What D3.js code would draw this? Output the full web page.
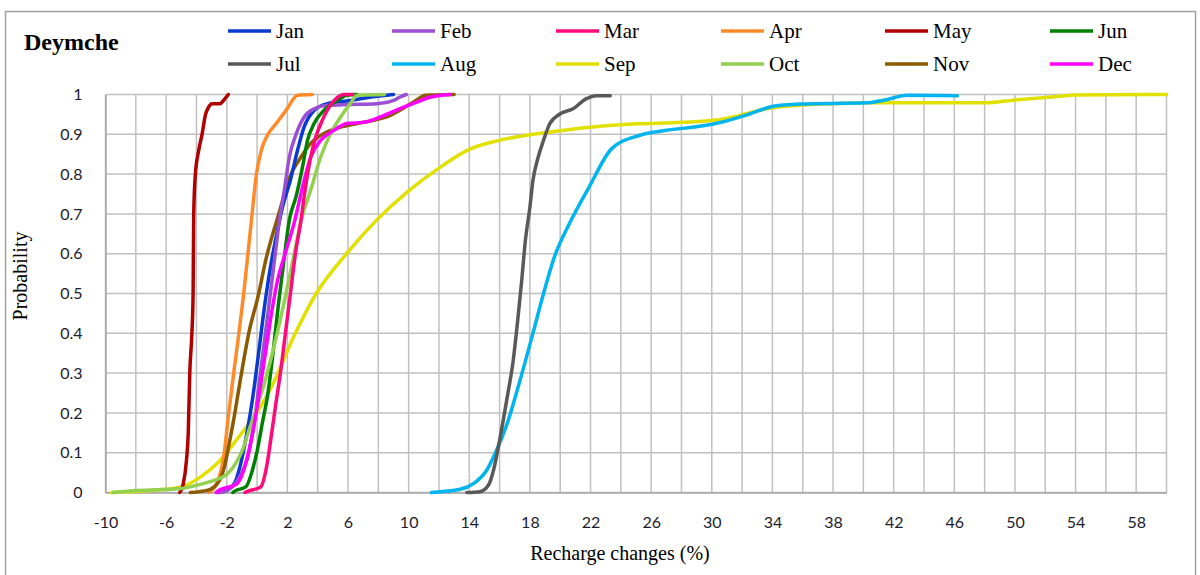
<!DOCTYPE html>
<html>
<head>
<meta charset="utf-8">
<script src="https://cdn.jsdelivr.net/npm/d3@7"></script>
<style>
  html, body { margin: 0; padding: 0; background: #fff; }
  svg { display: block; }
</style>
</head>
<body>
<svg id="chart" width="1200" height="575"></svg>
<script>
// ---- Data ----
const months = ["Jan","Feb","Mar","Apr","May","Jun","Jul","Aug","Sep","Oct","Nov","Dec"];
const colors = ["#0a3ad0","#9b4fd2","#ff0a7a","#ff8a2a","#b00000","#008000","#595959","#00b4f0","#e2e000","#92d050","#8c5a00","#ff00ff"];

const janX = [-2.6,-2.15,-1.5,-1.07,-0.63,-0.3,0.1,0.5,0.9,1.3,1.7,2.2,2.67,3.1,3.76,4.63,6.15,7.24,8.54,9.0];
const janP = [0,0.003,0.023,0.074,0.158,0.235,0.35,0.47,0.57,0.65,0.72,0.785,0.86,0.918,0.96,0.977,0.985,0.992,0.998,1.0];

const febX = [-2.5,-2.0,-1.3,-0.55,-0.1,0.22,0.55,0.88,1.2,1.48,1.8,2.13,2.57,3.1,3.76,4.63,6.15,7.9,9.0,9.4,9.85];
const febP = [0,0.005,0.03,0.1,0.2,0.3,0.4,0.5,0.6,0.685,0.76,0.843,0.9,0.943,0.964,0.973,0.975,0.977,0.985,0.993,1.0];

const marX = [-0.8,-0.63,0.24,0.63,0.93,1.22,1.54,1.87,2.2,2.53,2.9,3.2,3.54,3.87,4.3,4.74,5.28,5.72,6.3];
const marP = [0,0.003,0.014,0.065,0.14,0.218,0.3,0.4,0.5,0.6,0.685,0.768,0.843,0.893,0.935,0.968,0.992,1.0,1.0];

const aprX = [-3.2,-2.7,-2.2,-1.87,-1.54,-1.2,-0.88,-0.37,-0.04,0.28,0.72,1.26,1.91,2.67,3.65];
const aprP = [0,0.02,0.09,0.2,0.3,0.4,0.5,0.685,0.8,0.86,0.9,0.927,0.96,0.998,1.0];

const mayX = [-5.1,-4.88,-4.66,-4.54,-4.44,-4.3,-4.22,-4.18,-4.07,-3.85,-3.63,-3.4,-3.2,-2.98,-2.43,-2.22,-1.9];
const mayP = [0,0.02,0.08,0.15,0.3,0.4,0.5,0.7,0.8,0.86,0.9,0.95,0.968,0.977,0.977,0.985,1.0];

const junX = [-1.6,-1.5,-0.74,-0.3,0.02,0.35,0.72,1.05,1.4,1.76,2.13,2.57,3.0,3.33,3.76,4.41,5.28,5.93,6.6];
const junP = [0,0.003,0.014,0.057,0.107,0.175,0.25,0.35,0.47,0.58,0.685,0.743,0.818,0.885,0.927,0.96,0.985,0.998,1.0];

const julX = [13.84,14.7,15.26,15.6,16.0,16.47,16.9,17.24,17.46,17.7,18.0,18.2,18.55,18.9,19.3,19.98,20.85,21.7,22.4,23.3];
const julP = [0,0.002,0.018,0.056,0.131,0.232,0.332,0.449,0.533,0.633,0.717,0.784,0.843,0.885,0.926,0.951,0.964,0.989,0.997,0.997];

const augX = [11.5,13.4,14.3,15.15,15.8,16.5,17.35,18.2,18.9,19.6,20.6,21.9,23.4,25.2,27.0,29.2,30.7,32.5,34.0,35.8,40.2,41.5,42.9,46.2];
const augP = [0,0.008,0.023,0.056,0.106,0.173,0.282,0.4,0.5,0.59,0.675,0.767,0.864,0.897,0.91,0.92,0.931,0.951,0.97,0.976,0.979,0.987,0.998,0.997];

const sepX = [-9.6,-7.0,-5.0,-3.7,-2.6,-1.5,-0.6,0.3,1.1,2.4,3.9,5.9,7.9,10.0,12.0,14.0,16.0,18.2,20.4,22.6,24.8,28.1,30.3,31.8,33.6,35.8,38.0,40.2,48.0,50.2,52.4,54.2,60.0];
const sepP = [0,0.005,0.014,0.04,0.074,0.125,0.17,0.22,0.277,0.39,0.5,0.6,0.685,0.758,0.815,0.862,0.885,0.9,0.911,0.92,0.926,0.93,0.936,0.947,0.964,0.973,0.977,0.979,0.979,0.987,0.994,0.999,1.0];

const octX = [-9.5,-7.9,-5.0,-3.7,-2.8,-1.93,-1.4,-0.96,-0.52,0.02,0.6,1.2,1.8,2.4,2.95,3.54,4.2,4.85,5.5,6.15,6.6,8.4];
const octP = [0,0.005,0.01,0.021,0.031,0.048,0.074,0.107,0.158,0.218,0.29,0.38,0.48,0.59,0.69,0.76,0.843,0.902,0.943,0.977,0.998,1.0];

const novX = [-4.4,-3.24,-2.6,-2.15,-1.83,-1.5,-1.17,-0.55,0.11,0.55,1.43,2.24,2.9,3.54,4.41,5.5,6.59,7.67,8.76,9.4,10.28,11.15,13.0];
const novP = [0,0.006,0.023,0.065,0.125,0.192,0.268,0.4,0.5,0.58,0.7,0.8,0.843,0.877,0.902,0.918,0.927,0.935,0.947,0.96,0.98,0.998,1.0];

const decX = [-2.7,-2.6,-1.3,-0.74,-0.25,0.15,0.55,0.95,1.35,1.85,2.5,3.0,3.54,4.2,5.07,5.93,7.0,8.1,9.4,10.5,11.4,12.7];
const decP = [0,0.003,0.023,0.074,0.158,0.25,0.35,0.45,0.533,0.6,0.685,0.768,0.843,0.885,0.91,0.927,0.93,0.943,0.964,0.98,0.993,1.0];

const seriesX = [janX,febX,marX,aprX,mayX,junX,julX,augX,sepX,octX,novX,decX];
const seriesP = [janP,febP,marP,aprP,mayP,junP,julP,augP,sepP,octP,novP,decP];

const xTickVals = [-10,-6,-2,2,6,10,14,18,22,26,30,34,38,42,46,50,54,58];
const yTickVals = [0,0.1,0.2,0.3,0.4,0.5,0.6,0.7,0.8,0.9,1];

const chartTitle = "Deymche";
const xTitle = "Recharge changes (%)";
const yTitle = "Probability";

// ---- Drawing ----
const svg = d3.select("#chart");
const L = 105.5, R = 1166.5, T = 94.5, B = 492.5;
const x = d3.scaleLinear().domain([-10, 60]).range([L, R]);
const y = d3.scaleLinear().domain([0, 1]).range([B, T]);

// outer border
svg.append("rect").attr("x", 5.5).attr("y", 11.5).attr("width", 1190).attr("height", 620)
  .attr("fill", "none").attr("stroke", "#a0a0a0").attr("stroke-width", 1.5);

// gridlines
const gx = d3.range(-10, 61, 2);
svg.append("g").selectAll("line").data(gx).join("line")
  .attr("x1", d => x(d)).attr("x2", d => x(d)).attr("y1", T).attr("y2", B)
  .attr("stroke", "#c0c0c0").attr("stroke-width", 1.5);
svg.append("g").selectAll("line").data(yTickVals).join("line")
  .attr("x1", L).attr("x2", R).attr("y1", d => y(d)).attr("y2", d => y(d))
  .attr("stroke", "#c0c0c0").attr("stroke-width", 1.5);

// axes (labels only)
const tickFont = "Lato, 'Open Sans', sans-serif";
const xAxis = d3.axisBottom(x).tickValues(xTickVals).tickSize(0).tickPadding(24).tickFormat(d => String(d));
const gxa = svg.append("g").attr("transform", `translate(0,${B})`).call(xAxis);
gxa.select(".domain").attr("stroke", "#a6a6a6").attr("stroke-width", 1.5);
gxa.selectAll("text").attr("font-family", tickFont).attr("font-size", 16).attr("fill", "#1c1c2c");

const yAxis = d3.axisLeft(y).tickValues(yTickVals).tickSize(0).tickPadding(23).tickFormat(d => d === 0 || d === 1 ? String(d) : d3.format(".1f")(d));
const gya = svg.append("g").attr("transform", `translate(${L},0)`).call(yAxis);
gya.select(".domain").attr("stroke", "#a6a6a6").attr("stroke-width", 1.5);
gya.selectAll("text").attr("font-family", tickFont).attr("font-size", 16).attr("fill", "#1c1c2c");

// lines
const line = d3.line().x(d => x(d[0])).y(d => y(d[1])).curve(d3.curveMonotoneX);
const order = [8, 7, 6, 4, 3, 10, 0, 1, 5, 9, 11, 2];
order.forEach(i => {
  const pts = seriesX[i].map((v, k) => [v, seriesP[i][k]]);
  svg.append("path").datum(pts).attr("d", line)
    .attr("fill", "none").attr("stroke", colors[i]).attr("stroke-width", 3.5)
    .attr("stroke-linejoin", "round").attr("stroke-linecap", "round");
});

// title
svg.append("text").attr("x", 24).attr("y", 50).text(chartTitle)
  .attr("font-family", "'Liberation Serif', 'Times New Roman', serif").attr("font-weight", "bold").attr("font-size", 24).attr("fill", "#000");

// legend
const legCols = [228, 392, 556, 721, 885, 1050];
const legRows = [31, 64];
months.forEach((m, i) => {
  const cx = legCols[i % 6], cy = legRows[Math.floor(i / 6)];
  svg.append("line").attr("x1", cx).attr("x2", cx + 43).attr("y1", cy).attr("y2", cy)
    .attr("stroke", colors[i]).attr("stroke-width", 3.5);
  svg.append("text").attr("x", cx + 48).attr("y", cy).attr("dy", "0.32em").text(m)
    .attr("font-family", "'Liberation Serif', 'Times New Roman', serif").attr("font-size", 21).attr("fill", "#000");
});

// axis titles
svg.append("text").attr("x", 620).attr("y", 560).attr("text-anchor", "middle").text(xTitle)
  .attr("font-family", "'Liberation Serif', 'Times New Roman', serif").attr("font-size", 20).attr("fill", "#000");
svg.append("text").attr("transform", "translate(27,276) rotate(-90)").attr("text-anchor", "middle").text(yTitle)
  .attr("font-family", "'Liberation Serif', 'Times New Roman', serif").attr("font-size", 20).attr("fill", "#000");
</script>
</body>
</html>
